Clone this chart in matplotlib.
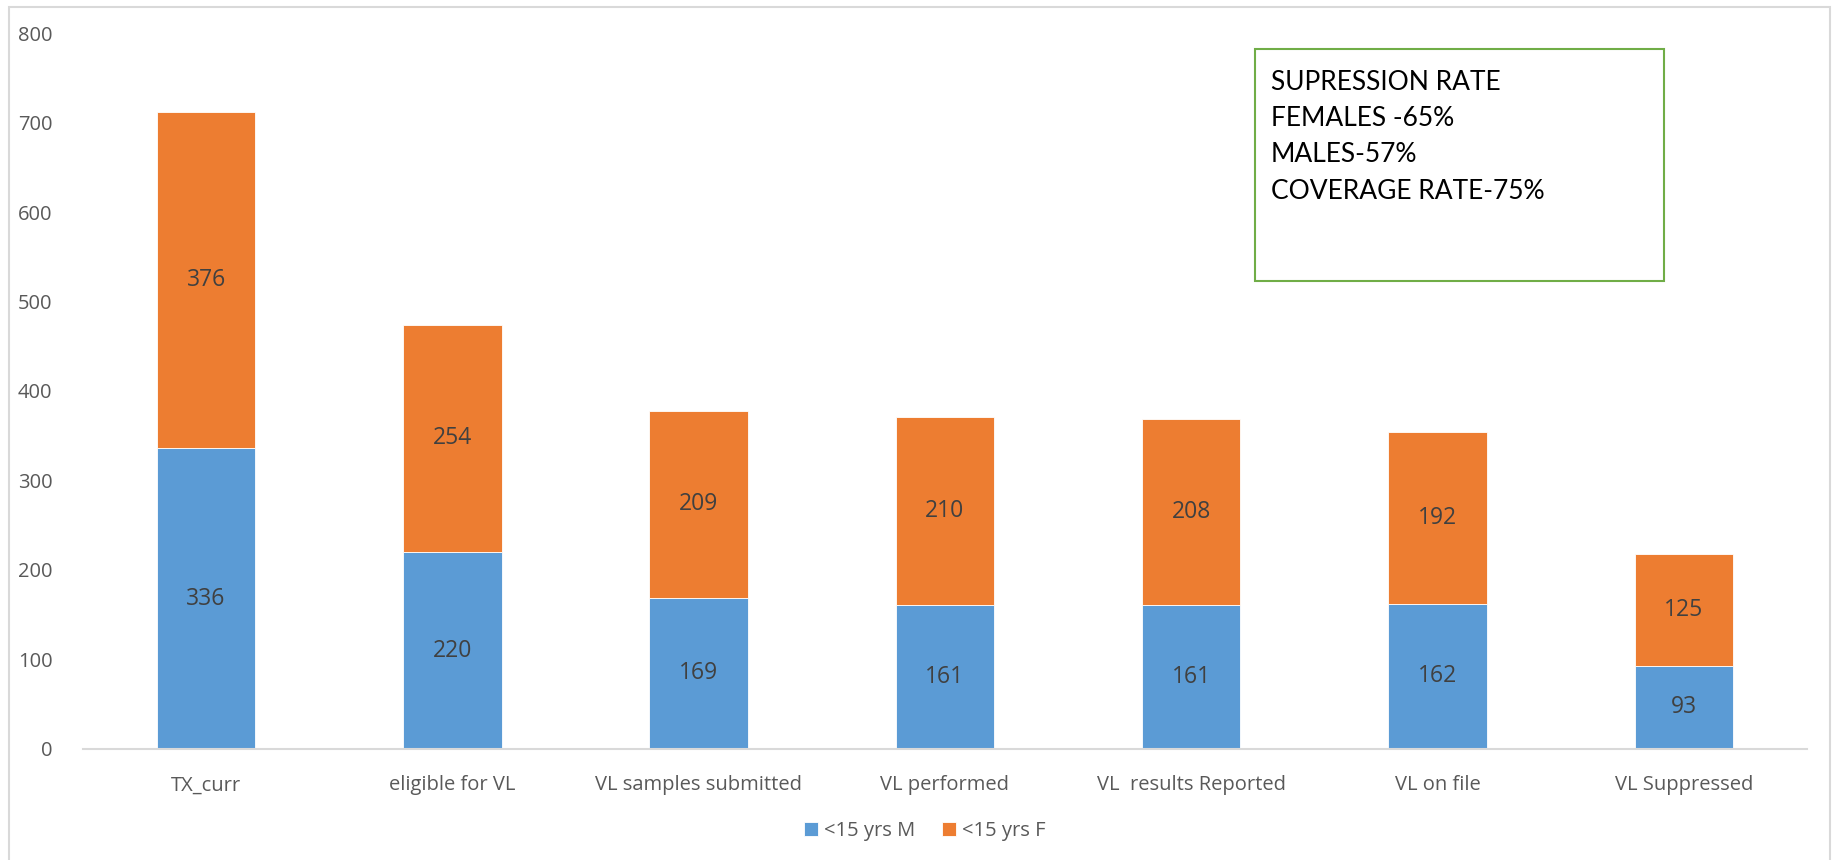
import numpy as np
import matplotlib.pyplot as plt
from matplotlib.patches import Rectangle

# Dados do gráfico
categorias = ['TX_curr', 'eligible for VL', 'VL samples submitted', 'VL performed',
              'VL  results Reported', 'VL on file', 'VL Suppressed']
masculino = [336, 220, 169, 161, 161, 162, 93]
feminino = [376, 254, 209, 210, 208, 192, 125]
rotulos_series = ['<15 yrs M', '<15 yrs F']
y_ticks = [0, 100, 200, 300, 400, 500, 600, 700, 800]
texto_caixa = ['SUPRESSION RATE', 'FEMALES -65%', 'MALES-57%', 'COVERAGE RATE-75%']

plt.rcParams['font.family'] = ['Open Sans', 'DejaVu Sans']

azul = '#5B9BD5'
laranja = '#ED7D31'
cinza_texto = '#595959'

fig = plt.figure(figsize=(18.35, 8.6), dpi=100)
ax = fig.add_axes([0.0452, 0.1291, 0.9395, 0.8325])

x = np.arange(len(categorias))
b1 = ax.bar(x, masculino, width=0.4, color=azul, edgecolor='white', linewidth=0.6,
            label=rotulos_series[0])
b2 = ax.bar(x, feminino, width=0.4, bottom=masculino, color=laranja, edgecolor='white',
            linewidth=0.6, label=rotulos_series[1])
ax.bar_label(b1, label_type='center', fontsize=16.5, color='#404040')
ax.bar_label(b2, label_type='center', fontsize=16.5, color='#404040')

ax.set_xlim(-0.5, len(categorias) - 0.5)
ax.set_ylim(0, 800)
ax.set_yticks(y_ticks)
ax.set_xticks(x)
ax.set_xticklabels(categorias)
ax.tick_params(axis='both', length=0, labelsize=14.5, labelcolor=cinza_texto)
ax.tick_params(axis='x', pad=19)
ax.tick_params(axis='y', pad=22)
for s in ['top', 'right', 'left']:
    ax.spines[s].set_visible(False)
ax.spines['bottom'].set_color('#D9D9D9')
ax.spines['bottom'].set_linewidth(1.5)

# Legenda
fig.legend(handles=[b1, b2], loc='center', bbox_to_anchor=(0.504, 0.034), ncol=2,
           frameon=False, fontsize=14.5, labelcolor=cinza_texto, handlelength=0.7,
           handleheight=0.7, handletextpad=0.3, columnspacing=1.3)

# Caixa de texto
fig.patches.append(Rectangle((1255 / 1835, 1 - 281 / 860), 409 / 1835, 232 / 860,
                             transform=fig.transFigure, fill=False,
                             edgecolor='#70AD47', linewidth=1.5))
for i, linha in enumerate(texto_caixa):
    fig.text(1271 / 1835, 1 - (82 + i * 36.5) / 860, linha, fontsize=19,
             family=['Lato', 'DejaVu Sans'], color='black', va='center', ha='left')

# Borda externa (sem linha de baixo visível)
fig.patches.append(Rectangle((9 / 1835, -0.05), 1821 / 1835, 1.05 - 7 / 860,
                             transform=fig.transFigure, fill=False,
                             edgecolor='#D9D9D9', linewidth=1.5))

fig.savefig('out.png', dpi=100)
